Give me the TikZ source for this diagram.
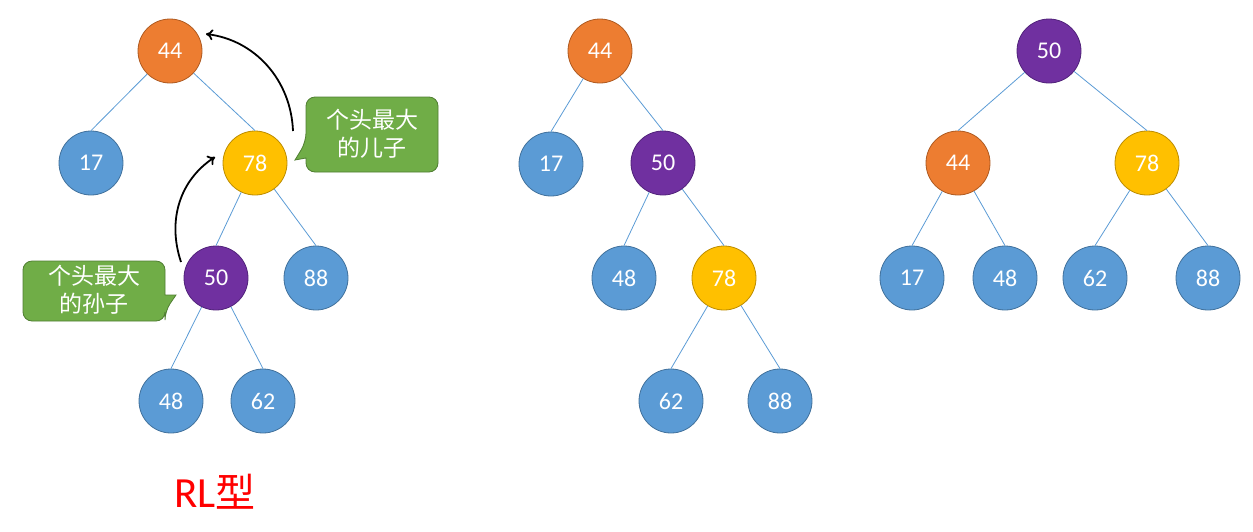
\documentclass[tikz,border=0pt]{standalone}
\usepackage{fontspec}
\setmainfont{Carlito}
\newfontfamily\cjk{Noto Sans CJK SC}
\usetikzlibrary{arrows.meta}
\definecolor{cblue}{HTML}{5B9BD5}
\definecolor{cblueD}{HTML}{41719C}
\definecolor{corange}{HTML}{ED7D31}
\definecolor{corangeD}{HTML}{AE5A21}
\definecolor{cyellow}{HTML}{FFC000}
\definecolor{cyellowD}{HTML}{BC8C00}
\definecolor{cpurple}{HTML}{7030A0}
\definecolor{cpurpleD}{HTML}{51237A}
\definecolor{cgreen}{HTML}{70AD47}
\definecolor{cgreenD}{HTML}{507E32}
\tikzset{
  tn/.style={circle, minimum size=64pt, inner sep=0pt, line width=0.8pt, text=white, font=\fontsize{24}{24}\selectfont},
  bn/.style={tn, fill=cblue, draw=cblueD},
  on/.style={tn, fill=corange, draw=corangeD},
  yn/.style={tn, fill=cyellow, draw=cyellowD},
  pn/.style={tn, fill=cpurple, draw=cpurpleD},
  ed/.style={draw=cblue, line width=0.8pt},
  mv/.style={line width=1.8pt, -{To[length=7pt,width=11pt]}},
  callout/.style={fill=cgreen, draw=cgreenD, line width=0.8pt, rounded corners=9pt},
  ctext/.style={text=white, align=center, font=\cjk\fontsize{23}{28}\selectfont}
}
\begin{document}
\begin{tikzpicture}[x=1pt,y=-1pt]
\useasboundingbox (0,0) rectangle (1253,531);
% ---- tree 1
\node[on] (a44) at (170,51) {44};
\node[bn] (a17) at (91,163) {17};
\node[yn] (a78) at (255,163) {78};
\node[pn] (a50) at (216,278) {50};
\node[bn] (a88) at (316,278) {88};
\node[bn] (a48) at (171,401) {48};
\node[bn] (a62) at (263,401) {62};
\draw[ed] (a44) -- (a17.north);
\draw[ed] (a44) -- (a78.north);
\draw[ed] (a78) -- (a50.north);
\draw[ed] (a78) -- (a88.north);
\draw[ed] (a50) -- (a48.north);
\draw[ed] (a50) -- (a62.north);
% callouts
\draw[callout] (306,97) -- (306,142) [sharp corners] -- (295,160) -- (306,158) [rounded corners=9pt] -- (306,172) -- (438,172) -- (438,97) -- cycle;
\node[ctext] (c1) at (372,134) {个头最大\\的儿子};
\draw[callout] (23,261) -- (23,321) -- (165,321) -- (165,311) [sharp corners] -- (176,295) -- (165,295) [rounded corners=9pt] -- (165,261) -- cycle;
\node[ctext] (c2) at (94,290) {个头最大\\的孙子};
% arrows
\coordinate (s1) at (293,131);
\coordinate (e1) at (206,34);
\draw[mv] (s1) .. controls (291,80) and (255,40) .. (e1);
\coordinate (s2) at (181,262);
\coordinate (e2) at (215,157);
\draw[mv] (s2) .. controls (167,220) and (180,180) .. (e2);
\node[text=red, font=\fontsize{43}{43}\selectfont, inner sep=0pt] (rl) at (215,492) {RL{\cjk\fontsize{40}{40}\selectfont 型}};
% ---- tree 2
\node[on] (b44) at (600,51) {44};
\node[bn] (b17) at (551,164) {17};
\node[pn] (b50) at (663,163) {50};
\node[bn] (b48) at (624,278) {48};
\node[yn] (b78) at (724,278) {78};
\node[bn] (b62) at (671,401) {62};
\node[bn] (b88) at (780,401) {88};
\draw[ed] (b44) -- (b17.north);
\draw[ed] (b44) -- (b50.north);
\draw[ed] (b50) -- (b48.north);
\draw[ed] (b50) -- (b78.north);
\draw[ed] (b78) -- (b62.north);
\draw[ed] (b78) -- (b88.north);
% ---- tree 3
\node[pn] (c50) at (1049,51) {50};
\node[on] (c44) at (958,163) {44};
\node[yn] (c78) at (1147,163) {78};
\node[bn] (c17) at (912,278) {17};
\node[bn] (c48) at (1005,278) {48};
\node[bn] (c62) at (1095,278) {62};
\node[bn] (c88) at (1208,278) {88};
\draw[ed] (c50) -- (c44.north);
\draw[ed] (c50) -- (c78.north);
\draw[ed] (c44) -- (c17.north);
\draw[ed] (c44) -- (c48.north);
\draw[ed] (c78) -- (c62.north);
\draw[ed] (c78) -- (c88.north);
\end{tikzpicture}
\end{document}
